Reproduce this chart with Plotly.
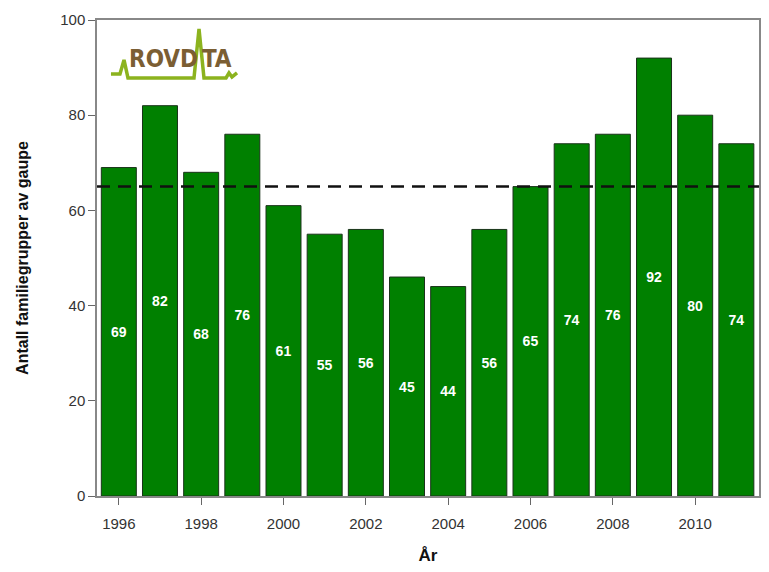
import plotly.graph_objects as go

years = list(range(1996, 2012))
bar_values = [69, 82, 68, 76, 61, 55, 56, 46, 44, 56, 65, 74, 76, 92, 80, 74]
bar_labels = ["69", "82", "68", "76", "61", "55", "56", "45", "44", "56", "65", "74", "76", "92", "80", "74"]
mean_level = 65
x_ticks = [1996, 1998, 2000, 2002, 2004, 2006, 2008, 2010]
y_ticks = [0, 20, 40, 60, 80, 100]

W, H = 769, 572
L, R, T, B = 97, 10, 20, 76
PW, PH = W - L - R, H - T - B


def px(x):
    return (x - L) / PW


def py(y):
    return (H - B - y) / PH


FONT = "Liberation Sans, Arial, sans-serif"

fig = go.Figure()
fig.add_trace(go.Bar(
    x=years, y=bar_values, text=["<b>" + s + "</b>" for s in bar_labels], width=0.85,
    marker=dict(color="#008000", line=dict(color="#1a331a", width=1)),
    textposition="inside", insidetextanchor="middle", textangle=0,
    textfont=dict(color="white", size=14, family=FONT),
    hoverinfo="x+y", showlegend=False,
))
fig.add_trace(go.Scatter(
    x=[1995.47, 2011.55], y=[mean_level, mean_level], mode="lines",
    line=dict(color="#111111", width=2.5, dash="13px,8px"),
    hoverinfo="skip", showlegend=False,
))

# Logo (decorative)
pts = [(111, 74), (120, 74), (124, 60), (128, 78), (194, 78), (199, 29), (204, 78),
       (226, 78), (229, 73), (232, 77), (237, 73)]
path = "M " + " L ".join(f"{px(a):.4f},{py(b):.4f}" for a, b in pts)
fig.add_shape(type="path", path=path, xref="paper", yref="paper",
              line=dict(color="#8cb31e", width=3.5))
fig.add_annotation(x=px(163), y=py(59), xref="paper", yref="paper", text="<b>ROVD</b>",
                   showarrow=False, xanchor="center", yanchor="middle",
                   font=dict(size=24, color="#7b5e33", family="DejaVu Sans Condensed, Liberation Sans, sans-serif"))
fig.add_annotation(x=px(217), y=py(59), xref="paper", yref="paper", text="<b>TA</b>",
                   showarrow=False, xanchor="center", yanchor="middle",
                   font=dict(size=24, color="#7b5e33", family="DejaVu Sans Condensed, Liberation Sans, sans-serif"))

axis_font = dict(size=15, color="#333333", family=FONT)
fig.update_layout(
    width=W, height=H,
    margin=dict(l=L, r=R, t=T, b=B),
    paper_bgcolor="white", plot_bgcolor="white",
    xaxis=dict(
        range=[1995.47, 2011.55], tickvals=x_ticks, ticks="outside", ticklen=7,
        tickcolor="#666666", tickfont=axis_font, showgrid=False, zeroline=False,
        showline=True, linecolor="#888888", linewidth=1.5, mirror=True, automargin=False,
        ticklabelstandoff=6,
        title=dict(text="<b>År</b>", font=dict(size=17, color="#111111", family=FONT), standoff=18),
    ),
    yaxis=dict(
        range=[0, 100], tickvals=y_ticks, ticks="outside", ticklen=7,
        tickcolor="#666666", tickfont=axis_font, showgrid=False, zeroline=False,
        showline=True, linecolor="#888888", linewidth=1.5, mirror=True, automargin=False,
        title=dict(text="<b>Antall familiegrupper av gaupe</b>", font=dict(size=16, color="#111111", family=FONT), standoff=28),
    ),
)

fig.write_html("out.html", config={"displayModeBar": False},
               post_script="document.body.style.margin='0';")
